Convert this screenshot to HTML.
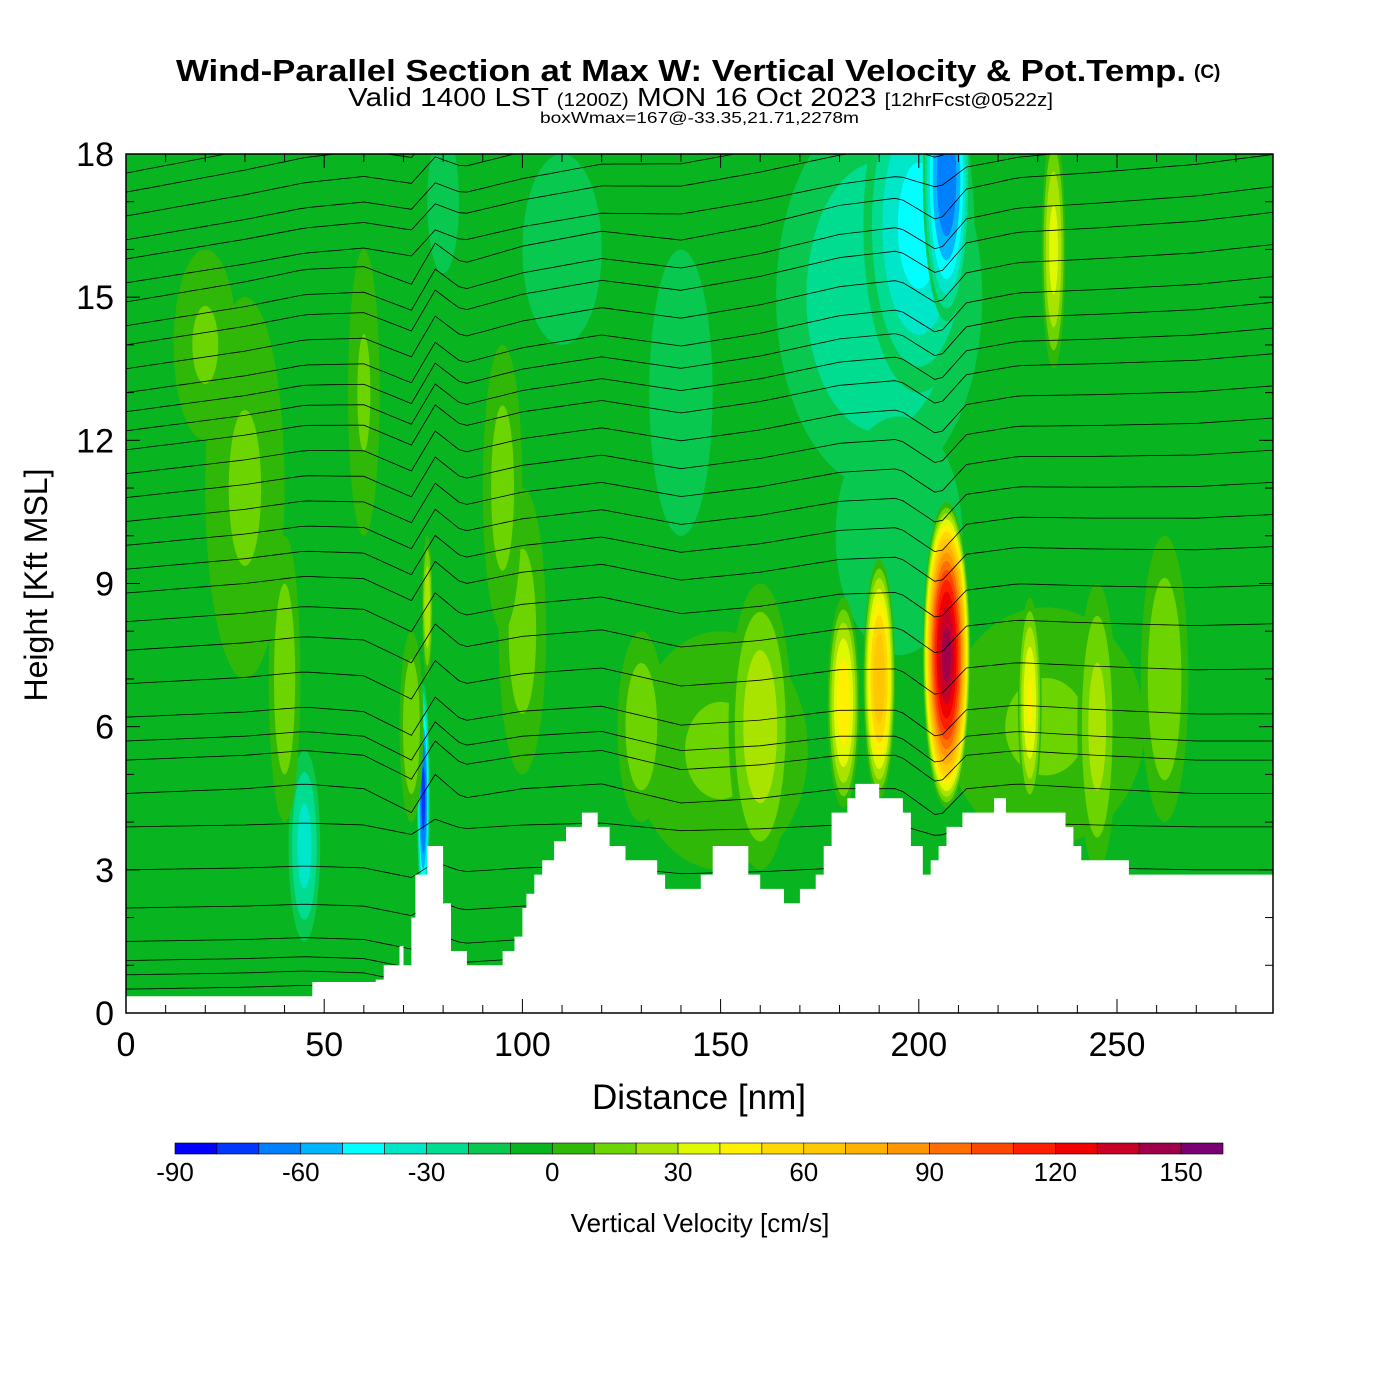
<!DOCTYPE html>
<html><head><meta charset="utf-8"><style>
html,body{margin:0;padding:0;background:#fff;}
svg{display:block;font-family:"Liberation Sans",sans-serif;}
</style></head><body>
<svg id="chart" width="1400" height="1400" viewBox="0 0 1400 1400" xmlns="http://www.w3.org/2000/svg">
<text x="176" y="81" font-size="31" font-weight="bold" textLength="1010" lengthAdjust="spacingAndGlyphs">Wind-Parallel Section at Max W: Vertical Velocity &amp; Pot.Temp.</text>
<text x="1194" y="78" font-size="19" font-weight="bold">(C)</text>
<text x="348" y="106" font-size="26" textLength="705" lengthAdjust="spacingAndGlyphs">Valid 1400 LST <tspan font-size="18">(1200Z)</tspan> MON 16 Oct 2023 <tspan font-size="18">[12hrFcst@0522z]</tspan></text>
<text x="540" y="123" font-size="16" textLength="319" lengthAdjust="spacingAndGlyphs">boxWmax=167@-33.35,21.71,2278m</text>
<defs><clipPath id="plotclip"><rect x="126" y="154" width="1147" height="859"/></clipPath></defs>
<g id="field" clip-path="url(#plotclip)"></g>
<g id="lines" clip-path="url(#plotclip)"></g>
<g id="terrain"></g>
<rect x="126" y="154" width="1147" height="859" fill="none" stroke="#000" stroke-width="1.5"/>
<g id="axes"></g>
<text transform="translate(47,585) rotate(-90)" text-anchor="middle" font-size="32">Height [Kft MSL]</text>
<text x="699" y="1109" text-anchor="middle" font-size="35">Distance [nm]</text>
<g id="cbar"></g>
<text x="700" y="1232" text-anchor="middle" font-size="26">Vertical Velocity [cm/s]</text>
</svg>
<script>
const NS="http://www.w3.org/2000/svg";
// ---- data ----
const cbarLevels=[-90,-80,-70,-60,-50,-40,-30,-20,-10,0,10,20,30,40,50,60,70,80,90,100,110,120,130,140,150];
const cbarColors=["#0000ff","#0038ff","#0080ff","#00b4ff","#00ffff","#00e6c8","#00dc90","#08c850","#08b420","#30b808","#6cd400","#a8e400","#e0f800","#fff000","#ffd800","#ffc800","#ffb000","#ff9600","#ff6e00","#ff4600","#ff1e00","#f00000","#c80028","#a0004a","#780070"];
const cbarTicks=[-90,-60,-30,0,30,60,90,120,150];
const xTicks=[0,50,100,150,200,250];
const yTicks=[0,3,6,9,12,15,18];
// terrain: distance (nm) and height (kft)
const terrX=[0,47,47,63,63,65,65,69,69,70,70,72,72,73,73,76,76,80,80,82,82,86,86,95,95,98,98,100,100,101,101,103,103,105,105,108,108,111,111,115,115,119,119,122,122,126,126,134,134,136,136,145,145,148,148,157,157,160,160,166,166,170,170,174,174,176,176,178,178,182,182,184,184,190,190,196,196,198,198,201,201,203,203,205,205,207,207,211,211,219,219,222,222,237,237,239,239,241,241,253,253,290];
const terrH=[0.35,0.35,0.65,0.65,0.7,0.7,1.0,1.0,1.4,1.4,1.0,1.0,2.0,2.0,2.9,2.9,3.5,3.5,2.3,2.3,1.3,1.3,1.0,1.0,1.3,1.3,1.6,1.6,2.2,2.2,2.5,2.5,2.9,2.9,3.2,3.2,3.6,3.6,3.9,3.9,4.2,4.2,3.9,3.9,3.5,3.5,3.2,3.2,2.9,2.9,2.6,2.6,2.9,2.9,3.5,3.5,2.9,2.9,2.6,2.6,2.3,2.3,2.6,2.6,2.9,2.9,3.5,3.5,4.2,4.2,4.5,4.5,4.8,4.8,4.5,4.5,4.2,4.2,3.5,3.5,2.9,2.9,3.2,3.2,3.5,3.5,3.9,3.9,4.2,4.2,4.5,4.5,4.2,4.2,3.9,3.9,3.5,3.5,3.2,3.2,2.9,2.9];
// w features: center x (nm), center z (kft), half-width (nm), half-height (kft), peak (cm/s)
const featX=[30,110,60,140,150,232,190,200,207,195,234,45,75,76,72,160,130,181,190,207,228,245,262,100,40,95,20,80];
const featZ=[11,16,13,13,5.5,6,15,16.5,17.5,10,16,3.5,4.5,8.5,6,6,6,6.5,7,7.5,6.5,6,7,8,7,11,14,17];
const featW=[10,10,4,8,22,25,26,14,6,16,3,4,1.6,1.3,3,8,6,4,4,6,3,5,6,6,4,5,8,4];
const featH=[4,2,3,3,2.5,2.5,4,3.5,3,2.5,2.5,2,2.4,1.5,2,3,2,2.2,2.5,3.2,2.2,3,3,3,3,3,2,1.5];
const featV=[12,-15,12,-15,12,12,-30,-45,-70,-12,35,-35,-75,30,20,28,18,48,70,145,42,25,20,15,18,15,12,-15];
// isentrope base heights (kft) at left edge
const thetaBase=[0.5,0.8,1.1,1.5,2.2,3.0,3.9,4.6,5.3,5.7,6.2,6.9,7.6,8.2,8.8,9.3,9.8,10.3,10.8,11.3,11.8,12.2,12.6,13.0,13.5,14.0,14.4,14.9,15.3,15.8,16.2,16.7,17.2,17.6];
// vertical displacement profile of isentropes (kft) along distance
const dispX=[0,30,45,60,72,78,85,100,120,140,160,180,195,205,212,225,245,270,290];
const dispZ=[0,0.1,0.2,0.1,-0.4,0.4,-0.1,0.1,0.2,-0.2,-0.1,0.1,0.1,-0.5,0.1,0.2,0.1,0,0];
// ---- scales ----
const X0=126,X1=1273,Y0=1013,Y1=154;
const sx=d=>X0+d*(1117-126)/250;
const sy=z=>Y0-z*(Y0-Y1)/18;
function el(t,a,p){const e=document.createElementNS(NS,t);for(const k in a)e.setAttribute(k,a[k]);(p||document.getElementById('chart')).appendChild(e);return e;}
function colorFor(v){let i=Math.floor((v+90)/10);i=Math.max(0,Math.min(24,i));return cbarColors[i];}
// field
const field=document.getElementById('field');
const bg=el('rect',{x:X0,y:Y1,width:X1-X0,height:Y0-Y1,fill:colorFor(-5)},field);


for(let f=0;f<featX.length;f++){
  const v=featV[f],s=Math.sign(v);
  const g=el('g',{},field);
  
  
  const start=s>0?0:-10;
  for(let L=start;Math.abs(L)<Math.abs(v);L+=s*10){
    const base=Math.abs(start);
    const frac=Math.sqrt(Math.max(0.03,1-(Math.abs(L)-base)/(Math.abs(v)-base)));
    const c=s>0?colorFor(L+1):colorFor(L-1);
    el('ellipse',{cx:sx(featX[f]),cy:sy(featZ[f]),rx:featW[f]*frac*(X1-X0)/289.4,ry:featH[f]*frac*(Y0-Y1)/18,fill:c},g);
  }
}
// isentropes
function disp(d){for(let i=0;i<dispX.length-1;i++){if(d<=dispX[i+1]){const t=(d-dispX[i])/(dispX[i+1]-dispX[i]);return dispZ[i]+t*(dispZ[i+1]-dispZ[i]);}}return 0;}
const lines=document.getElementById('lines');
thetaBase.forEach((b,i)=>{
  const amp=b<4?0.4:(b>15?0.6:1);
  const rise=b>6?(b-6)*0.012:0;
  let pts=[];
  for(let d=0;d<=290;d+=2){pts.push(sx(d).toFixed(1)+','+sy(b+amp*disp(d)+rise*d/10).toFixed(1));}
  const p=el('polyline',{points:pts.join(' '),fill:'none',stroke:'#000','stroke-width':0.8},lines);
  
  
});
// terrain
let tp=[sx(0)+','+sy(-1)];
for(let i=0;i<terrX.length;i++)tp.push(sx(terrX[i]).toFixed(1)+','+sy(terrH[i]).toFixed(1));
tp.push(sx(290)+','+sy(-1));
const tpoly=el('polygon',{points:tp.join(' '),fill:'#fff',stroke:'none'},document.getElementById('terrain'));


// axes
const axes=document.getElementById('axes');
for(let d=0;d<=289;d+=10){
  const major=d%50===0,len=major?14:8;
  el('line',{x1:sx(d),x2:sx(d),y1:Y0,y2:Y0-len,stroke:'#000','stroke-width':1},axes);
  el('line',{x1:sx(d),x2:sx(d),y1:Y1,y2:Y1+len,stroke:'#000','stroke-width':1},axes);
}
xTicks.forEach(d=>{const t=el('text',{x:sx(d),y:1056,'text-anchor':'middle','font-size':34},axes);t.textContent=d;

});
for(let z=0;z<=18;z++){
  const major=z%3===0,len=major?14:8;
  el('line',{x1:X0,x2:X0+len,y1:sy(z),y2:sy(z),stroke:'#000','stroke-width':1},axes);
  el('line',{x1:X1,x2:X1-len,y1:sy(z),y2:sy(z),stroke:'#000','stroke-width':1},axes);
}
yTicks.forEach(z=>{const t=el('text',{x:114,y:sy(z)+12,'text-anchor':'end','font-size':34},axes);t.textContent=z;

});
// colorbar
const cb=document.getElementById('cbar');
const cw=(1223-175)/cbarColors.length;
cbarColors.forEach((c,i)=>{const r=el('rect',{x:175+i*cw,y:1143,width:cw,height:11,fill:c,stroke:'#000','stroke-width':0.6},cb);

});
cbarTicks.forEach(v=>{const i=cbarLevels.indexOf(v);const t=el('text',{x:175+i*cw,y:1181,'text-anchor':'middle','font-size':26},cb);t.textContent=v;

});
</script>
</body></html>
